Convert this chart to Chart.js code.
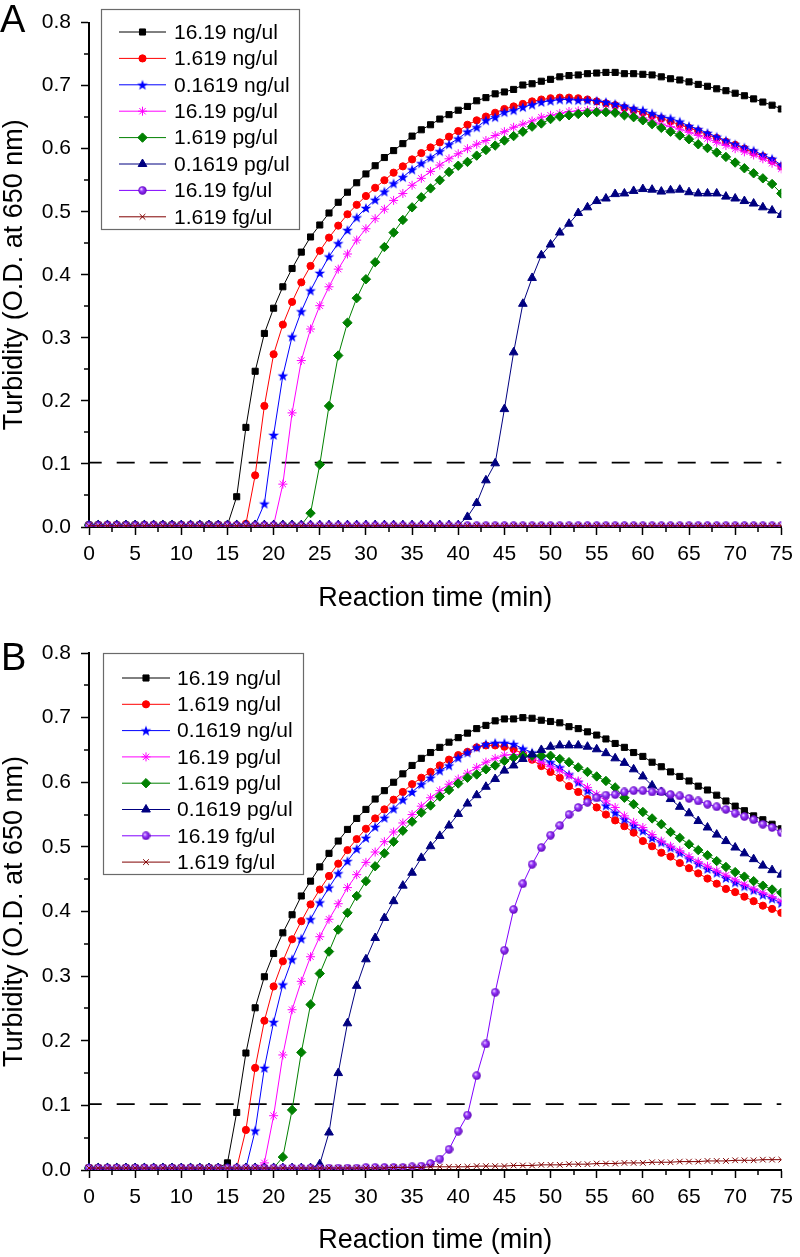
<!DOCTYPE html>
<html><head><meta charset="utf-8">
<script src="https://cdn.jsdelivr.net/npm/chart.js@4.4.1/dist/chart.umd.min.js"></script>
<style>
html,body{margin:0;padding:0;background:#fff;}
canvas{display:block;}
</style></head><body>
<canvas id="cA" width="800" height="620"></canvas>
<canvas id="cB" width="800" height="637"></canvas>
<script>
// ---------------- DATA ----------------
const minutes = [0,1,2,3,4,5,6,7,8,9,10,11,12,13,14,15,16,17,18,19,20,21,22,23,24,25,26,27,28,29,30,31,32,33,34,35,36,37,38,39,40,41,42,43,44,45,46,47,48,49,50,51,52,53,54,55,56,57,58,59,60,61,62,63,64,65,66,67,68,69,70,71,72,73,74,75];
const seriesLabels = ['16.19 ng/ul','1.619 ng/ul','0.1619 ng/ul','16.19 pg/ul','1.619 pg/ul','0.1619 pg/ul','16.19 fg/ul','1.619 fg/ul'];
const thresholdOD = 0.102;

// Panel A
const A_16_19ng = [
0.003,0.003,0.003,0.003,0.003,0.003,0.003,0.003,0.003,0.003,
0.003,0.003,0.003,0.003,0.003,0.003,0.048,0.158,0.247,0.307,
0.347,0.381,0.410,0.436,0.460,0.479,0.498,0.515,0.531,0.546,
0.560,0.573,0.586,0.597,0.608,0.620,0.630,0.638,0.647,0.654,
0.661,0.667,0.676,0.681,0.687,0.690,0.694,0.701,0.703,0.707,
0.710,0.714,0.716,0.717,0.719,0.720,0.721,0.721,0.719,0.719,
0.718,0.717,0.714,0.711,0.709,0.706,0.702,0.699,0.695,0.692,
0.688,0.684,0.679,0.674,0.669,0.663];
const A_1_619ng = [
0.003,0.003,0.003,0.003,0.003,0.003,0.003,0.003,0.003,0.003,
0.003,0.003,0.003,0.003,0.003,0.003,0.003,0.005,0.082,0.192,
0.274,0.321,0.357,0.388,0.414,0.438,0.459,0.478,0.496,0.511,
0.525,0.538,0.550,0.562,0.572,0.583,0.593,0.602,0.610,0.619,
0.628,0.638,0.645,0.651,0.657,0.663,0.667,0.671,0.675,0.678,
0.680,0.681,0.681,0.680,0.678,0.675,0.672,0.669,0.665,0.661,
0.657,0.652,0.648,0.643,0.638,0.633,0.628,0.622,0.617,0.611,
0.606,0.600,0.594,0.588,0.581,0.572];
const A_0_1619ng = [
0.003,0.003,0.003,0.003,0.003,0.003,0.003,0.003,0.003,0.003,
0.003,0.003,0.003,0.003,0.003,0.003,0.003,0.003,0.003,0.037,
0.146,0.240,0.302,0.342,0.375,0.403,0.429,0.450,0.471,0.491,
0.506,0.519,0.532,0.545,0.555,0.567,0.577,0.586,0.596,0.607,
0.616,0.627,0.634,0.645,0.650,0.658,0.661,0.666,0.670,0.674,
0.676,0.678,0.678,0.677,0.677,0.676,0.674,0.671,0.668,0.664,
0.661,0.656,0.651,0.648,0.643,0.636,0.631,0.625,0.619,0.613,
0.607,0.602,0.597,0.590,0.584,0.574];
const A_16_19pg = [
0.003,0.003,0.003,0.003,0.003,0.003,0.003,0.003,0.003,0.003,
0.003,0.003,0.003,0.003,0.003,0.003,0.003,0.003,0.003,0.003,
0.003,0.068,0.181,0.264,0.314,0.351,0.381,0.409,0.433,0.455,
0.473,0.489,0.504,0.518,0.529,0.542,0.553,0.564,0.574,0.584,
0.592,0.600,0.607,0.613,0.621,0.627,0.634,0.639,0.644,0.650,
0.653,0.656,0.659,0.660,0.661,0.661,0.661,0.659,0.656,0.652,
0.649,0.644,0.639,0.635,0.631,0.626,0.621,0.616,0.610,0.605,
0.600,0.595,0.590,0.584,0.577,0.568];
const A_1_619pg = [
0.003,0.003,0.003,0.003,0.003,0.003,0.003,0.003,0.003,0.003,
0.003,0.003,0.003,0.003,0.003,0.003,0.003,0.003,0.003,0.003,
0.003,0.003,0.003,0.003,0.022,0.099,0.192,0.272,0.324,0.363,
0.393,0.420,0.444,0.467,0.487,0.507,0.523,0.537,0.550,0.563,
0.573,0.579,0.589,0.598,0.605,0.613,0.620,0.627,0.635,0.640,
0.647,0.651,0.653,0.655,0.657,0.658,0.658,0.657,0.653,0.650,
0.645,0.639,0.633,0.627,0.621,0.615,0.607,0.601,0.594,0.587,
0.578,0.569,0.561,0.553,0.544,0.529];
const A_0_1619pg = [
0.003,0.003,0.003,0.003,0.003,0.003,0.003,0.003,0.003,0.003,
0.003,0.003,0.003,0.003,0.003,0.003,0.003,0.003,0.003,0.003,
0.003,0.003,0.003,0.003,0.003,0.003,0.003,0.003,0.003,0.003,
0.003,0.003,0.003,0.003,0.003,0.003,0.003,0.003,0.003,0.003,
0.003,0.016,0.038,0.074,0.101,0.187,0.277,0.354,0.395,0.431,
0.448,0.467,0.481,0.498,0.507,0.517,0.521,0.528,0.529,0.533,
0.536,0.535,0.532,0.534,0.535,0.531,0.529,0.529,0.529,0.524,
0.521,0.517,0.513,0.507,0.502,0.495];
const A_16_19fg = [
0.002,0.002,0.002,0.002,0.002,0.002,0.002,0.002,0.002,0.002,
0.002,0.002,0.002,0.002,0.002,0.002,0.002,0.002,0.002,0.002,
0.002,0.002,0.002,0.002,0.002,0.002,0.002,0.002,0.002,0.002,
0.002,0.002,0.002,0.002,0.002,0.002,0.002,0.002,0.002,0.002,
0.002,0.002,0.002,0.002,0.002,0.002,0.002,0.002,0.002,0.002,
0.002,0.002,0.002,0.002,0.002,0.002,0.002,0.002,0.002,0.002,
0.002,0.002,0.002,0.002,0.002,0.002,0.002,0.002,0.002,0.002,
0.002,0.002,0.002,0.002,0.002,0.002];
const A_1_619fg = [
0.002,0.002,0.002,0.002,0.002,0.002,0.002,0.002,0.002,0.002,
0.002,0.002,0.002,0.002,0.002,0.002,0.002,0.002,0.002,0.002,
0.002,0.002,0.002,0.002,0.002,0.002,0.002,0.002,0.002,0.002,
0.002,0.002,0.002,0.002,0.002,0.002,0.002,0.002,0.002,0.002,
0.002,0.002,0.002,0.002,0.002,0.002,0.002,0.002,0.002,0.002,
0.002,0.002,0.002,0.002,0.002,0.002,0.002,0.002,0.002,0.002,
0.002,0.002,0.002,0.002,0.002,0.002,0.002,0.002,0.002,0.002,
0.002,0.002,0.002,0.002,0.002,0.002];

// Panel B
const B_16_19ng = [
0.003,0.003,0.003,0.003,0.003,0.003,0.003,0.003,0.003,0.003,
0.003,0.003,0.003,0.003,0.003,0.011,0.089,0.181,0.251,0.299,
0.335,0.367,0.395,0.424,0.447,0.469,0.490,0.509,0.527,0.544,
0.558,0.574,0.587,0.600,0.613,0.626,0.637,0.646,0.654,0.662,
0.669,0.676,0.683,0.688,0.695,0.698,0.698,0.700,0.699,0.696,
0.694,0.692,0.686,0.683,0.678,0.673,0.667,0.660,0.654,0.646,
0.640,0.631,0.624,0.616,0.609,0.602,0.594,0.588,0.580,0.571,
0.563,0.556,0.548,0.542,0.535,0.528];
const B_1_619ng = [
0.003,0.003,0.003,0.003,0.003,0.003,0.003,0.003,0.003,0.003,
0.003,0.003,0.003,0.003,0.003,0.003,0.003,0.062,0.158,0.231,
0.284,0.323,0.357,0.385,0.411,0.434,0.455,0.474,0.495,0.512,
0.528,0.544,0.558,0.573,0.585,0.597,0.607,0.616,0.626,0.635,
0.642,0.647,0.654,0.657,0.657,0.655,0.651,0.644,0.635,0.625,
0.616,0.607,0.594,0.585,0.574,0.561,0.550,0.541,0.532,0.522,
0.509,0.501,0.491,0.485,0.475,0.467,0.459,0.451,0.443,0.435,
0.430,0.423,0.416,0.409,0.404,0.398];
const B_0_1619ng = [
0.003,0.003,0.003,0.003,0.003,0.003,0.003,0.003,0.003,0.003,
0.003,0.003,0.003,0.003,0.003,0.003,0.003,0.003,0.061,0.158,
0.229,0.287,0.326,0.358,0.388,0.414,0.437,0.459,0.478,0.497,
0.514,0.531,0.545,0.559,0.573,0.585,0.597,0.607,0.618,0.626,
0.638,0.646,0.654,0.659,0.661,0.661,0.659,0.652,0.646,0.638,
0.631,0.623,0.612,0.600,0.587,0.578,0.564,0.553,0.543,0.533,
0.525,0.514,0.507,0.499,0.491,0.482,0.474,0.466,0.460,0.452,
0.445,0.439,0.433,0.426,0.420,0.413];
const B_16_19pg = [
0.003,0.003,0.003,0.003,0.003,0.003,0.003,0.003,0.003,0.003,
0.003,0.003,0.003,0.003,0.003,0.003,0.003,0.003,0.003,0.011,
0.084,0.178,0.248,0.292,0.330,0.361,0.388,0.412,0.437,0.457,
0.476,0.492,0.508,0.523,0.537,0.550,0.563,0.576,0.587,0.597,
0.605,0.614,0.623,0.631,0.637,0.642,0.643,0.642,0.637,0.631,
0.624,0.618,0.610,0.602,0.592,0.581,0.571,0.561,0.548,0.538,
0.530,0.519,0.509,0.501,0.494,0.485,0.477,0.470,0.463,0.456,
0.449,0.442,0.435,0.429,0.423,0.416];
const B_1_619pg = [
0.003,0.003,0.003,0.003,0.003,0.003,0.003,0.003,0.003,0.003,
0.003,0.003,0.003,0.003,0.003,0.003,0.003,0.003,0.003,0.003,
0.003,0.020,0.093,0.182,0.256,0.304,0.338,0.372,0.398,0.424,
0.447,0.470,0.490,0.508,0.525,0.539,0.553,0.564,0.578,0.588,
0.598,0.607,0.612,0.620,0.626,0.633,0.638,0.641,0.641,0.641,
0.641,0.636,0.631,0.623,0.616,0.609,0.602,0.592,0.576,0.566,
0.554,0.544,0.535,0.523,0.514,0.504,0.495,0.487,0.478,0.469,
0.461,0.454,0.447,0.440,0.434,0.429];
const B_0_1619pg = [
0.003,0.003,0.003,0.003,0.003,0.003,0.003,0.003,0.003,0.003,
0.003,0.003,0.003,0.003,0.003,0.003,0.003,0.003,0.003,0.003,
0.003,0.003,0.003,0.003,0.003,0.009,0.058,0.150,0.227,0.285,
0.326,0.359,0.390,0.416,0.440,0.460,0.483,0.501,0.517,0.533,
0.551,0.567,0.580,0.593,0.605,0.618,0.626,0.636,0.643,0.650,
0.655,0.657,0.657,0.657,0.655,0.651,0.645,0.637,0.630,0.620,
0.609,0.595,0.585,0.574,0.562,0.552,0.540,0.530,0.519,0.509,
0.499,0.490,0.481,0.471,0.464,0.457];
const B_16_19fg = [
0.003,0.003,0.003,0.003,0.003,0.003,0.003,0.003,0.003,0.003,
0.003,0.003,0.003,0.003,0.003,0.003,0.003,0.003,0.003,0.003,
0.003,0.003,0.003,0.003,0.003,0.003,0.003,0.003,0.003,0.003,
0.004,0.004,0.004,0.004,0.004,0.005,0.006,0.010,0.017,0.032,
0.060,0.085,0.146,0.195,0.275,0.340,0.403,0.443,0.473,0.499,
0.518,0.533,0.550,0.561,0.569,0.576,0.580,0.581,0.585,0.587,
0.587,0.585,0.585,0.581,0.579,0.575,0.571,0.566,0.562,0.558,
0.552,0.547,0.542,0.535,0.530,0.522];
const B_1_619fg = [
0.003,0.003,0.003,0.003,0.003,0.003,0.003,0.003,0.003,0.003,
0.003,0.003,0.003,0.003,0.003,0.003,0.003,0.003,0.003,0.003,
0.003,0.003,0.003,0.003,0.003,0.003,0.003,0.003,0.003,0.003,
0.003,0.003,0.003,0.004,0.004,0.004,0.004,0.005,0.005,0.005,
0.005,0.005,0.006,0.006,0.006,0.006,0.007,0.007,0.007,0.008,
0.008,0.008,0.009,0.009,0.009,0.010,0.010,0.010,0.011,0.011,
0.011,0.012,0.012,0.012,0.013,0.013,0.013,0.014,0.014,0.014,
0.015,0.015,0.015,0.016,0.016,0.016];

const panelA = [A_16_19ng, A_1_619ng, A_0_1619ng, A_16_19pg, A_1_619pg, A_0_1619pg, A_16_19fg, A_1_619fg];
const panelB = [B_16_19ng, B_1_619ng, B_0_1619ng, B_16_19pg, B_1_619pg, B_0_1619pg, B_16_19fg, B_1_619fg];

// ---------------- STYLE ----------------
const FONT = "'Liberation Sans', Arial, Helvetica, sans-serif";

function makeStar(color){
  const c = document.createElement('canvas'); c.width = 12; c.height = 12;
  const g = c.getContext('2d'); g.fillStyle = color; g.beginPath();
  for (let k = 0; k < 10; k++) {
    const r = (k % 2) ? 2.3 : 5.6;
    const a = -Math.PI/2 + k*Math.PI/5;
    const px = 6 + r*Math.cos(a), py = 6.5 + r*Math.sin(a);
    if (k) g.lineTo(px, py); else g.moveTo(px, py);
  }
  g.closePath(); g.fill(); return c;
}
function makeBall(){
  const c = document.createElement('canvas'); c.width = 9; c.height = 9;
  const g = c.getContext('2d');
  const grd = g.createRadialGradient(3.2,3.0,0.3,4.5,4.5,4.5);
  grd.addColorStop(0,'#f0d8ff'); grd.addColorStop(0.35,'#9a3cff'); grd.addColorStop(1,'#5a00b4');
  g.fillStyle = grd; g.beginPath(); g.arc(4.5,4.5,4.2,0,Math.PI*2); g.fill(); return c;
}
const styles = [
  {color:'#000000', pointStyle:'rect', radius:4.3, bw:1},
  {color:'#ff0000', pointStyle:'circle', radius:3.6, bw:1},
  {color:'#0000ff', pointStyle:makeStar('#0000ff'), radius:4.5, bw:1},
  {color:'#ff00ff', pointStyle:'star', radius:4.5, bw:1},
  {color:'#008000', pointStyle:'rectRot', radius:4.7, bw:1},
  {color:'#000080', pointStyle:'triangle', radius:5, bw:1},
  {color:'#8000ff', pointStyle:makeBall(), radius:4.2, bw:1},
  {color:'#800000', pointStyle:'crossRot', radius:4, bw:1}
];

const isMajorX = v => Math.abs(v/5 - Math.round(v/5)) < 1e-6;
const isMajorY = v => Math.abs(v*10 - Math.round(v*10)) < 1e-6;

const decor = {
  id: 'decor',
  afterDraw(chart, args, o) {
    const ctx = chart.ctx, xs = chart.scales.x, ys = chart.scales.y;
    ctx.save();
    // minor ticks
    ctx.strokeStyle = '#000'; ctx.lineWidth = 1.5;
    xs.ticks.forEach(t => { if (!isMajorX(t.value)) { const px = Math.round(xs.getPixelForValue(t.value)) ; ctx.beginPath(); ctx.moveTo(px, xs.top); ctx.lineTo(px, xs.top + 5); ctx.stroke(); }});
    ys.ticks.forEach(t => { if (!isMajorY(t.value)) { const py = Math.round(ys.getPixelForValue(t.value)); ctx.beginPath(); ctx.moveTo(ys.right, py); ctx.lineTo(ys.right - 5, py); ctx.stroke(); }});
    // legend
    const L = o.legend;
    ctx.fillStyle = '#fff'; ctx.fillRect(L.x, L.y, L.w, L.h);
    ctx.strokeStyle = '#6a6a6a'; ctx.lineWidth = 1.2; ctx.strokeRect(L.x + 0.5, L.y + 0.5, L.w, L.h);
    ctx.font = '21px ' + FONT; ctx.textBaseline = 'middle'; ctx.textAlign = 'left';
    chart.data.datasets.forEach((ds, i) => {
      if (ds.skipLegend) return;
      const cy = L.row0 + i * L.rowH;
      ctx.strokeStyle = ds.borderColor; ctx.lineWidth = 1;
      ctx.beginPath(); ctx.moveTo(L.lx0, cy); ctx.lineTo(L.lx1, cy); ctx.stroke();
      ctx.fillStyle = ds.pointBackgroundColor; ctx.strokeStyle = ds.pointBorderColor; ctx.lineWidth = ds.pointBorderWidth;
      Chart.helpers.drawPoint(ctx, {pointStyle: ds.pointStyle, radius: ds.pointRadius, rotation: 0, borderWidth: ds.pointBorderWidth}, (L.lx0 + L.lx1) / 2, cy);
      ctx.fillStyle = '#000';
      ctx.fillText(ds.label, L.tx, cy + 1);
    });
    // panel letter
    ctx.fillStyle = '#000'; ctx.font = '38px ' + FONT; ctx.textBaseline = 'alphabetic';
    ctx.fillText(o.letter.text, o.letter.x, o.letter.y);
    ctx.restore();
  }
};

function buildChart(canvasId, values, cfg) {
  const datasets = values.map((vals, i) => ({
    label: seriesLabels[i],
    data: minutes.map((m, k) => ({x: m, y: vals[k]})),
    borderColor: styles[i].color,
    backgroundColor: styles[i].color,
    pointBackgroundColor: styles[i].color,
    pointBorderColor: styles[i].color,
    pointBorderWidth: styles[i].bw,
    pointStyle: styles[i].pointStyle,
    pointRadius: styles[i].radius,
    borderWidth: 1,
    tension: 0,
    order: 8 - i,
    clip: {left: 6, top: 6, right: 0, bottom: 0}
  }));
  datasets.push({
    label: 'threshold', skipLegend: true,
    data: [{x: minutes[0], y: thresholdOD}, {x: minutes[minutes.length - 1], y: thresholdOD}],
    borderColor: '#000', borderWidth: 1.8, borderDash: [18, 15], borderDashOffset: 5.3,
    pointRadius: 0, order: 20, clip: false
  });
  return new Chart(document.getElementById(canvasId), {
    type: 'line',
    data: {datasets},
    options: {
      responsive: false, animation: false, events: [],
      layout: {padding: {top: cfg.top, right: 12, bottom: 0, left: 0}},
      plugins: {legend: {display: false}, tooltip: {enabled: false}, decor: cfg.decor},
      scales: {
        x: {
          type: 'linear', min: 0, max: 75,
          ticks: {stepSize: 2.5, autoSkip: false, maxRotation: 0, minRotation: 0, padding: 7, color: '#000',
                  font: {family: FONT, size: 21}, callback: v => isMajorX(v) ? String(Math.round(v)) : ''},
          grid: {display: true, drawOnChartArea: false, drawTicks: true, tickLength: 8, tickWidth: 1.5,
                 tickColor: c => isMajorX(c.tick.value) ? '#000' : 'rgba(0,0,0,0)'},
          border: {display: true, color: '#000', width: 2},
          title: {display: true, text: 'Reaction time (min)', color: '#000', font: {family: FONT, size: 27},
                  padding: {top: 0, bottom: cfg.xTitlePad}},
          afterFit(s) { s.height = cfg.xHeight; }
        },
        y: {
          type: 'linear', min: 0, max: 0.8,
          ticks: {stepSize: 0.05, autoSkip: false, padding: 10, color: '#000',
                  font: {family: FONT, size: 21}, callback: v => isMajorY(v) ? v.toFixed(1) : ''},
          grid: {display: true, drawOnChartArea: false, drawTicks: true, tickLength: 8, tickWidth: 1.5,
                 tickColor: c => isMajorY(c.tick.value) ? '#000' : 'rgba(0,0,0,0)'},
          border: {display: true, color: '#000', width: 2},
          title: {display: true, text: 'Turbidity (O.D. at 650 nm)', color: '#000',
                  font: {family: FONT, size: 27, lineHeight: 1.1}, padding: {top: 0, bottom: 0}},
          afterFit(s) { s.width = 89; }
        }
      }
    },
    plugins: [decor]
  });
}

buildChart('cA', panelA, {
  top: 10, xHeight: 93, xTitlePad: 5,
  decor: {legend: {x: 101, y: 9, w: 198, h: 220, row0: 32, rowH: 26.4, lx0: 119, lx1: 166, tx: 174},
          letter: {text: 'A', x: 0, y: 32}}
});
buildChart('cB', panelB, {
  top: 33, xHeight: 87, xTitlePad: 0,
  decor: {legend: {x: 103, y: 33, w: 200, h: 221, row0: 58, rowH: 26.3, lx0: 122, lx1: 170, tx: 177},
          letter: {text: 'B', x: 1, y: 50}}
});
</script>
</body></html>
